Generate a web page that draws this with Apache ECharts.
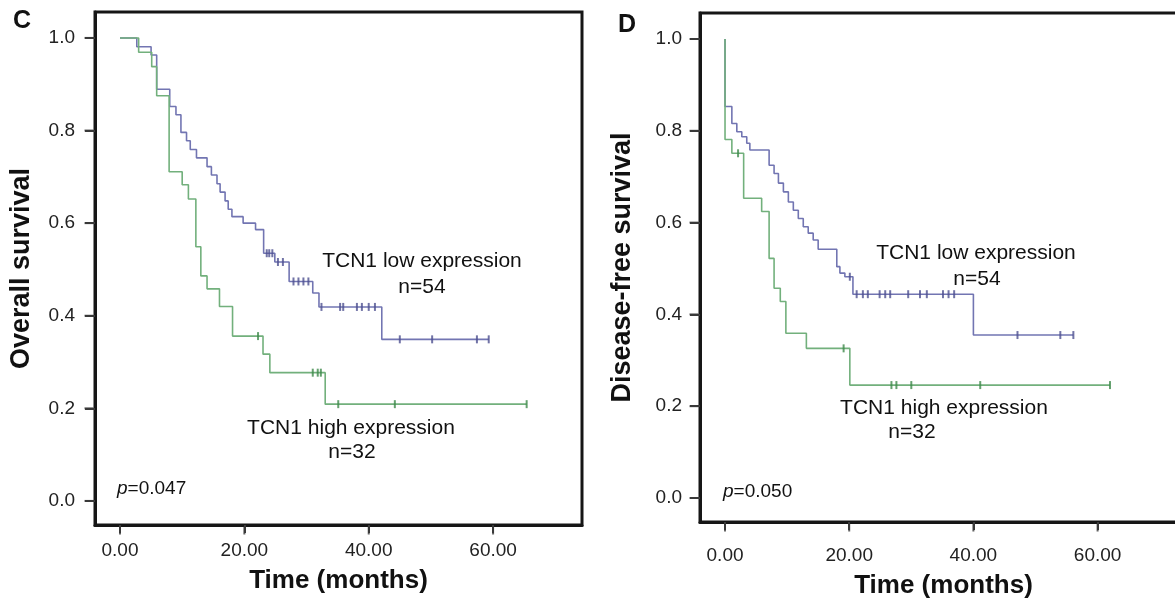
<!DOCTYPE html>
<html><head><meta charset="utf-8">
<script src="https://cdn.jsdelivr.net/npm/echarts@6/dist/echarts.min.js"></script>
<style>html,body{margin:0;padding:0;background:#fff}#c{width:1175px;height:601px}</style>
</head><body><div id="c"></div>
<script>
// ---- tick labels ----
const yTicks = [0, 0.2, 0.4, 0.6, 0.8, 1.0];
const xTicks = [0, 20, 40, 60];

// ---- Panel C: overall survival (time in months, survival proportion) ----
const cLowCurve = [[0,1],[2.7,0.981],[5.0,0.963],[5.9,0.889],[8.0,0.852],[9.0,0.834],[9.8,0.796],[10.7,0.778],[11.3,0.759],[12.3,0.741],[14.0,0.722],[14.7,0.704],[15.6,0.685],[16.1,0.667],[16.9,0.648],[17.4,0.630],[18.0,0.614],[19.8,0.600],[21.8,0.586],[23.1,0.535],[24.9,0.516],[27.2,0.474],[31.0,0.449],[32.0,0.419],[42.1,0.349],[59.3,0.349]];
const cLowCensor = [[23.6,0.535],[24.0,0.535],[24.5,0.535],[25.4,0.516],[26.2,0.516],[27.9,0.474],[28.7,0.474],[29.5,0.474],[30.3,0.474],[32.4,0.419],[35.4,0.419],[35.9,0.419],[38.1,0.419],[38.9,0.419],[40.0,0.419],[41.0,0.419],[45.0,0.349],[50.2,0.349],[57.4,0.349],[59.3,0.349]];
const cHighCurve = [[0,1],[3.0,0.969],[5.1,0.938],[5.9,0.875],[7.9,0.711],[10.0,0.683],[11.0,0.652],[12.2,0.549],[13.0,0.486],[14.0,0.458],[16.0,0.420],[18.1,0.356],[23.0,0.317],[24.1,0.277],[33.0,0.209],[65.4,0.209]];
const cHighCensor = [[22.2,0.356],[31.0,0.277],[31.8,0.277],[32.3,0.277],[35.1,0.209],[44.2,0.209],[65.4,0.209]];

// ---- Panel D: disease-free survival ----
const dLowCurve = [[0,1],[0,0.853],[1.1,0.816],[1.9,0.798],[2.7,0.787],[3.5,0.773],[4.0,0.758],[7.1,0.725],[7.9,0.707],[8.6,0.686],[9.4,0.667],[10.2,0.645],[11.0,0.627],[11.8,0.609],[12.6,0.591],[13.4,0.577],[14.2,0.562],[15.0,0.542],[18.0,0.504],[18.5,0.490],[19.3,0.482],[20.6,0.444],[40.0,0.355],[56.1,0.355]];
const dLowCensor = [[20.1,0.482],[21.2,0.444],[22.2,0.444],[23.0,0.444],[24.9,0.444],[25.8,0.444],[26.6,0.444],[29.5,0.444],[31.4,0.444],[32.5,0.444],[35.1,0.444],[36.0,0.444],[36.9,0.444],[47.1,0.355],[54.0,0.355],[56.1,0.355]];
const dHighCurve = [[0,1],[0,0.781],[1.1,0.751],[3.0,0.653],[5.9,0.624],[7.1,0.522],[7.9,0.457],[8.9,0.428],[9.8,0.359],[13.1,0.326],[20.1,0.246],[62.0,0.246]];
const dHighCensor = [[2.1,0.751],[19.1,0.326],[26.8,0.246],[27.6,0.246],[30.0,0.246],[41.1,0.246],[62.0,0.246]];

const FONT = '"Liberation Sans", Arial, sans-serif';
const lowColor = '#7275b2', lowMark = '#4d5090';
const highColor = '#72b07c', highMark = '#3f8a4b';
const frame = '#161616';
const tickColor = '#3a3a3a';

// axis extents (layout)
const axC = {xmin: -4.02, xmax: 74.3, ymin: -0.052, ymax: 1.056};
const axD = {xmin: -4.03, xmax: 74.4, ymin: -0.0523, ymax: 1.0566};

function xAxisCfg(gi, ax, labelMargin, nameGap) {
  return {
    gridIndex: gi, type: 'value', min: ax.xmin, max: ax.xmax,
    axisLine: {show: true, onZero: false, lineStyle: {color: frame, width: 3}},
    axisTick: {show: true, length: 8, customValues: xTicks, lineStyle: {color: tickColor, width: 2}},
    axisLabel: {customValues: xTicks, formatter: v => v.toFixed(2), fontSize: 19, color: '#222', margin: labelMargin, fontFamily: FONT},
    splitLine: {show: false},
    name: 'Time (months)', nameLocation: 'middle', nameGap: nameGap,
    nameTextStyle: {fontSize: 26, fontWeight: 'bold', color: '#111', fontFamily: FONT}
  };
}
function yAxisCfg(gi, ax, name, labelMargin, nameGap) {
  return {
    gridIndex: gi, type: 'value', min: ax.ymin, max: ax.ymax,
    axisLine: {show: true, onZero: false, lineStyle: {color: frame, width: 3}},
    axisTick: {show: true, length: 10, customValues: yTicks, lineStyle: {color: tickColor, width: 2}},
    axisLabel: {customValues: yTicks, formatter: v => v.toFixed(1), fontSize: 19, color: '#222', margin: labelMargin, fontFamily: FONT},
    splitLine: {show: false},
    name: name, nameLocation: 'middle', nameGap: nameGap, nameRotate: 90,
    nameTextStyle: {fontSize: 27, fontWeight: 'bold', color: '#111', fontFamily: FONT}
  };
}
function curve(gi, data, color) {
  return {type: 'line', xAxisIndex: gi, yAxisIndex: gi, data: data, step: 'end', symbol: 'none',
    lineStyle: {color: color, width: 1.6}, silent: true, z: 3};
}
function censor(gi, data, color) {
  return {type: 'scatter', xAxisIndex: gi, yAxisIndex: gi, data: data, symbol: 'rect', symbolSize: [2, 8],
    itemStyle: {color: color}, silent: true, z: 4};
}
// outside tick marks placed at the tick values through the axis scales
function yTickMarks(gi, ax) {
  return {type: 'scatter', xAxisIndex: gi, yAxisIndex: gi, data: yTicks.map(v => [ax.xmin, v]),
    symbol: 'rect', symbolSize: [9, 2], symbolOffset: [-6, 0], clip: false,
    itemStyle: {color: tickColor}, silent: true, z: 6};
}
function xTickMarks(gi, ax) {
  return {type: 'scatter', xAxisIndex: gi, yAxisIndex: gi, data: xTicks.map(v => [v, ax.ymin]),
    symbol: 'rect', symbolSize: [2, 8], symbolOffset: [0, 5.5], clip: false,
    itemStyle: {color: tickColor}, silent: true, z: 6};
}
function txt(x, y, s, opt) {
  return {type: 'text', x: x, y: y, style: Object.assign({text: s, fill: '#111', font: '21px ' + FONT, textAlign: 'center', textVerticalAlign: 'middle'}, opt || {})};
}

const chart = echarts.init(document.getElementById('c'), null, {renderer: 'canvas'});
chart.setOption({
  backgroundColor: '#fff',
  animation: false,
  grid: [
    {left: 95, top: 12, width: 487, height: 513, show: true, borderColor: frame, borderWidth: 3, outerBoundsMode: 'none'},
    {left: 700, top: 13, width: 487, height: 509, show: true, borderColor: frame, borderWidth: 3, outerBoundsMode: 'none'}
  ],
  xAxis: [xAxisCfg(0, axC, 16, 43), xAxisCfg(1, axD, 24, 51)],
  yAxis: [yAxisCfg(0, axC, 'Overall survival', 20, 60), yAxisCfg(1, axD, 'Disease-free survival', 18, 64)],
  series: [
    curve(0, cLowCurve, lowColor), curve(0, cHighCurve, highColor),
    censor(0, cLowCensor, lowMark), censor(0, cHighCensor, highMark),
    curve(1, dLowCurve, lowColor), curve(1, dHighCurve, highColor),
    censor(1, dLowCensor, lowMark), censor(1, dHighCensor, highMark),
    yTickMarks(0, axC), xTickMarks(0, axC), yTickMarks(1, axD), xTickMarks(1, axD)
  ],
  graphic: [
    txt(22, 21, 'C', {font: 'bold 25px ' + FONT}),
    txt(627, 25, 'D', {font: 'bold 25px ' + FONT}),
    txt(422, 261, 'TCN1 low expression'),
    txt(422, 287, 'n=54'),
    txt(351, 428, 'TCN1 high expression'),
    txt(352, 452, 'n=32'),
    {type: 'text', x: 117, y: 489, style: {rich: {i: {fontStyle: 'italic', fontSize: 19, fontFamily: FONT, fill: '#111'}, n: {fontSize: 19, fontFamily: FONT, fill: '#111'}}, text: '{i|p}{n|=0.047}', textAlign: 'left', textVerticalAlign: 'middle'}},
    txt(976, 253, 'TCN1 low expression'),
    txt(977, 279, 'n=54'),
    txt(944, 408, 'TCN1 high expression'),
    txt(912, 432, 'n=32'),
    {type: 'text', x: 723, y: 492, style: {rich: {i: {fontStyle: 'italic', fontSize: 19, fontFamily: FONT, fill: '#111'}, n: {fontSize: 19, fontFamily: FONT, fill: '#111'}}, text: '{i|p}{n|=0.050}', textAlign: 'left', textVerticalAlign: 'middle'}}
  ]
});
</script>
</body></html>
